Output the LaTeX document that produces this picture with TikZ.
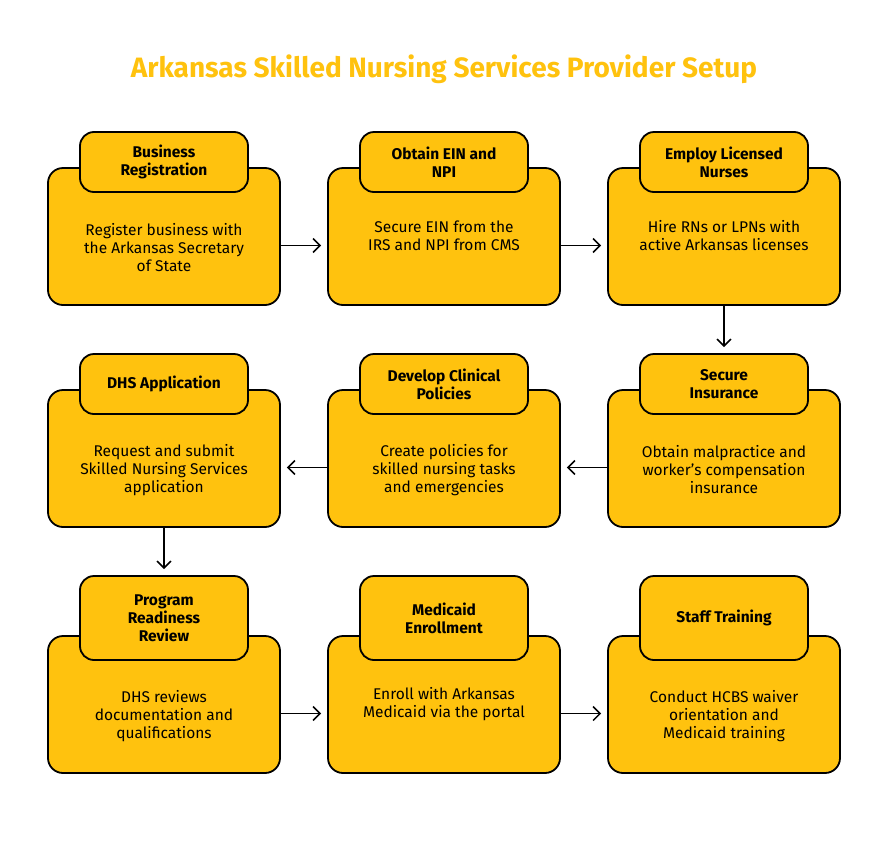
\documentclass[tikz,border=0pt]{standalone}
\usepackage{fontspec}
\setmainfont{Fira Sans}
\usepackage{tikz}
\usetikzlibrary{arrows.meta}
\definecolor{amber}{HTML}{FFC20E}
\definecolor{titleamber}{HTML}{FFC20E}
\tikzstyle{stepbody} = [draw=black, line width=1.8pt, fill=amber, rounded corners=15pt, minimum width=232pt, minimum height=137pt, inner sep=0]
\tikzstyle{stephead} = [draw=black, line width=1.8pt, fill=amber, rounded corners=14pt, minimum width=168pt, minimum height=60pt, inner sep=0, align=center, font=\bfseries\fontsize{15.5}{18}\selectfont]
\tikzstyle{steptext} = [draw=none, inner sep=0, align=center, font=\fontsize{15.5}{18}\selectfont]
\tikzstyle{flow} = [-{Straight Barb[length=7pt,width=14pt]}, line width=1.5pt, shorten >=6pt]

\begin{document}
\begin{tikzpicture}[x=1pt, y=-1pt]
\useasboundingbox [fill=white] (0, 0) rectangle (888, 846);
\node [draw=none, inner sep = 0, text=titleamber, font=\bfseries\fontsize{28}{32}\selectfont] (title) at (444, 69) {Arkansas Skilled Nursing Services Provider Setup};

% row 1
\node [stepbody] (reg) at (164, 236.5) {};
\node [stephead] (regh) at (164, 162) {Business\\Registration};
\node [steptext] (regt) at (164, 248) {Register business with\\the Arkansas Secretary\\of State};
\node [stepbody] (ein) at (444, 236.5) {};
\node [stephead] (einh) at (444, 162) {Obtain EIN and\\NPI};
\node [steptext] (eint) at (444, 236) {Secure EIN from the\\IRS and NPI from CMS};
\node [stepbody] (nurse) at (724, 236.5) {};
\node [stephead] (nurseh) at (724, 162) {Employ Licensed\\Nurses};
\node [steptext] (nurset) at (724, 236) {Hire RNs or LPNs with\\active Arkansas licenses};

% row 2
\node [stepbody] (dhs) at (164, 458.5) {};
\node [stephead] (dhsh) at (164, 384) {DHS Application};
\node [steptext] (dhst) at (164, 470) {Request and submit\\Skilled Nursing Services\\application};
\node [stepbody] (pol) at (444, 458.5) {};
\node [stephead] (polh) at (444, 384) {Develop Clinical\\Policies};
\node [steptext] (polt) at (444, 470) {Create policies for\\skilled nursing tasks\\and emergencies};
\node [stepbody] (ins) at (724, 458.5) {};
\node [stephead] (insh) at (724, 384) {Secure\\Insurance};
\node [steptext] (inst) at (724, 470) {Obtain malpractice and\\worker’s compensation\\insurance};

% row 3
\node [stepbody] (prr) at (164, 704.5) {};
\node [stephead, minimum height=84pt] (prrh) at (164, 618) {Program\\Readiness\\Review};
\node [steptext] (prrt) at (164, 716) {DHS reviews\\documentation and\\qualifications};
\node [stepbody] (mcd) at (444, 704.5) {};
\node [stephead, minimum height=84pt] (mcdh) at (444, 618) {Medicaid\\Enrollment};
\node [steptext] (mcdt) at (444, 704) {Enroll with Arkansas\\Medicaid via the portal};
\node [stepbody] (trn) at (724, 704.5) {};
\node [stephead, minimum height=84pt] (trnh) at (724, 618) {Staff Training};
\node [steptext] (trnt) at (724, 716) {Conduct HCBS waiver\\orientation and\\Medicaid training};

\draw [flow] ([yshift=-9pt]reg.east) to ([yshift=-9pt]ein.west);
\draw [flow] ([yshift=-9pt]ein.east) to ([yshift=-9pt]nurse.west);
\draw [flow] (nurse.south) to (insh.north);
\draw [flow] ([yshift=-9pt]ins.west) to ([yshift=-9pt]pol.east);
\draw [flow] ([yshift=-9pt]pol.west) to ([yshift=-9pt]dhs.east);
\draw [flow] (dhs.south) to (prrh.north);
\draw [flow] ([yshift=-9pt]prr.east) to ([yshift=-9pt]mcd.west);
\draw [flow] ([yshift=-9pt]mcd.east) to ([yshift=-9pt]trn.west);
\end{tikzpicture}
\end{document}
